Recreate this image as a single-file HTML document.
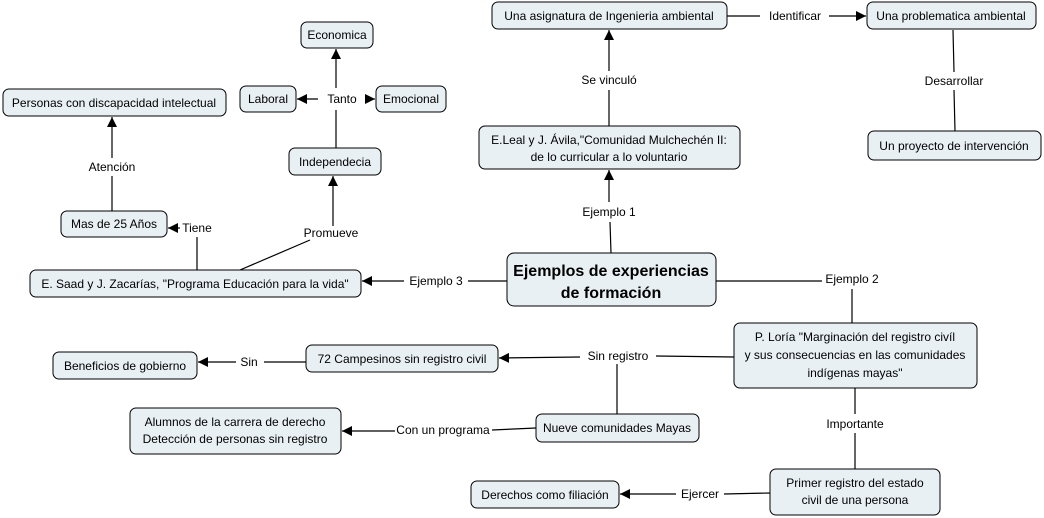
<!DOCTYPE html>
<html><head><meta charset="utf-8"><style>
html,body{margin:0;padding:0;background:#fff;}
svg{display:block;}
text{font-family:"Liberation Sans",sans-serif;font-size:12px;fill:#000;}
.b{fill:#e9f0f4;stroke:#000;stroke-width:1;}
.l{stroke:#000;stroke-width:1.2;fill:none;}
</style></head><body>
<svg width="1044" height="518" viewBox="0 0 1044 518" xmlns="http://www.w3.org/2000/svg">
<defs><marker id="a" viewBox="0 0 10 10" refX="10" refY="5" markerWidth="10" markerHeight="10" markerUnits="userSpaceOnUse" orient="auto"><path d="M0,0L10,5L0,10z" fill="#000"/></marker></defs>

<!-- connectors -->
<g class="l">
<line x1="336" y1="88" x2="336" y2="49" marker-end="url(#a)"/>
<line x1="336" y1="110" x2="336" y2="148"/>
<line x1="318" y1="99" x2="297" y2="99" marker-end="url(#a)"/>
<line x1="365" y1="99" x2="375" y2="99" marker-end="url(#a)"/>
<line x1="240" y1="270" x2="310" y2="240"/>
<line x1="333" y1="226" x2="333" y2="176" marker-end="url(#a)"/>
<line x1="197" y1="270" x2="197" y2="237"/>
<line x1="180" y1="228" x2="168" y2="228" marker-end="url(#a)"/>
<line x1="112" y1="211" x2="112" y2="176"/>
<line x1="112" y1="158" x2="112" y2="117" marker-end="url(#a)"/>
<line x1="507" y1="281" x2="468" y2="281"/>
<line x1="404" y1="281" x2="362" y2="281" marker-end="url(#a)"/>
<line x1="611" y1="253" x2="610" y2="222"/>
<line x1="609" y1="202" x2="609" y2="170" marker-end="url(#a)"/>
<line x1="609" y1="126" x2="609" y2="90"/>
<line x1="609" y1="71" x2="609" y2="30" marker-end="url(#a)"/>
<line x1="727" y1="16" x2="760" y2="16"/>
<line x1="829" y1="16" x2="866" y2="16" marker-end="url(#a)"/>
<line x1="953" y1="30" x2="954" y2="72"/>
<line x1="954" y1="90" x2="955" y2="131"/>
<line x1="716" y1="281" x2="822" y2="281"/>
<line x1="852" y1="289" x2="852" y2="323"/>
<line x1="734" y1="357" x2="656" y2="356"/>
<line x1="580" y1="357" x2="499" y2="358" marker-end="url(#a)"/>
<line x1="617" y1="364" x2="617" y2="414"/>
<line x1="306" y1="362" x2="264" y2="362"/>
<line x1="236" y1="362" x2="198" y2="362" marker-end="url(#a)"/>
<line x1="536" y1="428" x2="492" y2="430"/>
<line x1="395" y1="431" x2="342" y2="431" marker-end="url(#a)"/>
<line x1="855" y1="388" x2="855" y2="414"/>
<line x1="855" y1="433" x2="855" y2="469"/>
<line x1="770" y1="493" x2="724" y2="494"/>
<line x1="676" y1="494" x2="620" y2="494" marker-end="url(#a)"/>
</g>

<!-- link labels -->
<g text-anchor="middle">
<text x="342" y="103">Tanto</text>
<text x="331" y="237">Promueve</text>
<text x="197" y="232">Tiene</text>
<text x="112" y="171">Atención</text>
<text x="436" y="285">Ejemplo 3</text>
<text x="609" y="216">Ejemplo 1</text>
<text x="609" y="84">Se vinculó</text>
<text x="795" y="20">Identificar</text>
<text x="954" y="85">Desarrollar</text>
<text x="852" y="283">Ejemplo 2</text>
<text x="618" y="360">Sin registro</text>
<text x="249" y="366">Sin</text>
<text x="443" y="434">Con un programa</text>
<text x="855" y="428">Importante</text>
<text x="700" y="498">Ejercer</text>
</g>

<!-- nodes -->
<g>
<rect class="b" x="301" y="22" width="72" height="26" rx="6"/>
<rect class="b" x="240" y="86" width="56" height="26" rx="6"/>
<rect class="b" x="376" y="86" width="70" height="26" rx="6"/>
<rect class="b" x="289" y="148" width="92" height="27" rx="6"/>
<rect class="b" x="3" y="89" width="223" height="27" rx="6"/>
<rect class="b" x="61" y="211" width="106" height="26" rx="6"/>
<rect class="b" x="30" y="270" width="331" height="27" rx="6"/>
<rect class="b" x="507" y="253" width="209" height="53" rx="7" stroke-width="1.5"/>
<rect class="b" x="492" y="2" width="235" height="27" rx="6"/>
<rect class="b" x="867" y="2" width="169" height="27" rx="6"/>
<rect class="b" x="868" y="131" width="173" height="29" rx="6"/>
<rect class="b" x="479" y="126" width="261" height="43" rx="6"/>
<rect class="b" x="734" y="323" width="243" height="65" rx="6"/>
<rect class="b" x="306" y="345" width="192" height="27" rx="6"/>
<rect class="b" x="53" y="352" width="144" height="27" rx="6"/>
<rect class="b" x="536" y="414" width="163" height="28" rx="6"/>
<rect class="b" x="130" y="408" width="211" height="46" rx="6"/>
<rect class="b" x="770" y="469" width="170" height="46" rx="6"/>
<rect class="b" x="471" y="481" width="148" height="27" rx="6"/>
</g>
<g text-anchor="middle">
<text x="337" y="39">Economica</text>
<text x="268" y="103">Laboral</text>
<text x="411" y="103">Emocional</text>
<text x="335" y="166">Independecia</text>
<text x="114" y="107">Personas con discapacidad intelectual</text>
<text x="114" y="228">Mas de 25 Años</text>
<text x="195" y="288">E. Saad y J. Zacarías, "Programa Educación para la vida"</text>
<text x="611" y="276" style="font-size:16px;font-weight:bold">Ejemplos de experiencias</text>
<text x="611" y="298" style="font-size:16px;font-weight:bold">de formación</text>
<text x="609" y="20">Una asignatura de Ingenieria ambiental</text>
<text x="951" y="20">Una problematica ambiental</text>
<text x="954" y="150">Un proyecto de intervención</text>
<text x="609" y="144">E.Leal y J. Ávila,"Comunidad Mulchechén II:</text>
<text x="609" y="161">de lo curricular a lo voluntario</text>
<text x="855" y="341">P. Loría "Marginación del registro civíl</text>
<text x="855" y="359">y sus consecuencias en las comunidades</text>
<text x="855" y="377">indígenas mayas"</text>
<text x="402" y="363">72 Campesinos sin registro civil</text>
<text x="125" y="370">Beneficios de gobierno</text>
<text x="617" y="432">Nueve comunidades Mayas</text>
<text x="235" y="426">Alumnos de la carrera de derecho</text>
<text x="235" y="443">Detección de personas sin registro</text>
<text x="855" y="487">Primer registro del estado</text>
<text x="855" y="504">civil de una persona</text>
<text x="545" y="499">Derechos como filiación</text>
</g>
</svg>
</body></html>
